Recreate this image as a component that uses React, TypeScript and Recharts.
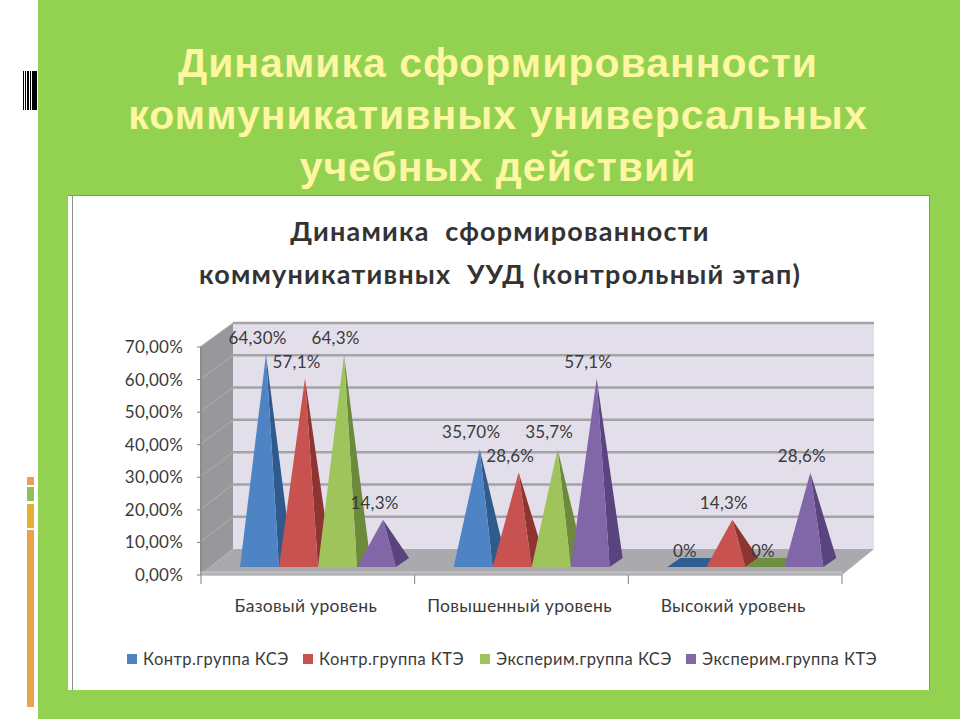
import React from "react";
import { ComposedChart, Bar, XAxis, YAxis, Legend, LabelList } from "recharts";

const categories = ["Базовый уровень", "Повышенный уровень", "Высокий уровень"];
const seriesNames = ["Контр.группа КСЭ", "Контр.группа КТЭ", "Эксперим.группа КСЭ", "Эксперим.группа КТЭ"];
const controlKse = [64.3, 35.7, 0];
const controlKte = [57.1, 28.6, 14.3];
const experKse = [64.3, 35.7, 0];
const experKte = [14.3, 57.1, 28.6];
const controlKseLabels = ["64,30%", "35,70%", "0%"];
const controlKteLabels = ["57,1%", "28,6%", "14,3%"];
const experKseLabels = ["64,3%", "35,7%", "0%"];
const experKteLabels = ["14,3%", "57,1%", "28,6%"];
const yTicks = [0, 10, 20, 30, 40, 50, 60, 70];
const slideTitle = ["Динамика сформированности", "коммуникативных универсальных", "учебных действий"];
const chartTitle = ["Динамика  сформированности", "коммуникативных  УУД (контрольный этап)"];

const rows = categories.map((name, i) => ({
  name,
  a: controlKse[i], b: controlKte[i], c: experKse[i], d: experKte[i],
  la: controlKseLabels[i], lb: controlKteLabels[i], lc: experKseLabels[i], ld: experKteLabels[i],
}));

const FONT = "Lato, 'Open Sans', sans-serif";
const TEXT = "#3a3a3a";
// plot box of the front plane
const L = 201, R = 842, T = 347, B = 575;
// depth of the 3D room
const DX = 32, DY = 26;
const BAR_LIFT = 8, BAR_SHIFT = 10, DEPTH_X = 13, DEPTH_Y = 9, BAR_SCALE = 1.015;

const colors = [
  { face: "#4f84c4", side: "#2f5b8c", flat: "#2f5f92" },
  { face: "#c8524f", side: "#8e3532", flat: "#8e3532" },
  { face: "#a0c45c", side: "#6b8a3a", flat: "#6f9040" },
  { face: "#8166a8", side: "#5a4480", flat: "#5a4480" },
];

function pyramid(colorIndex: number) {
  return (props: any) => {
    const { x, y, width, height } = props;
    const c = colors[colorIndex];
    const base = y + height - BAR_LIFT;
    const left = x + BAR_SHIFT;
    const right = left + width;
    if (!height) {
      return (
        <polygon
          points={`${left},${base} ${right},${base} ${right + DEPTH_X},${base - DEPTH_Y} ${left + DEPTH_X},${base - DEPTH_Y}`}
          fill={c.flat}
        />
      );
    }
    const ax = (left + right) / 2 + DEPTH_X / 2;
    const ay = base - height * BAR_SCALE;
    return (
      <g>
        <polygon points={`${right},${base} ${right + DEPTH_X},${base - DEPTH_Y} ${ax},${ay}`} fill={c.side} />
        <polygon points={`${left},${base} ${right},${base} ${ax},${ay}`} fill={c.face} />
      </g>
    );
  };
}

function barLabel(props: any) {
  const { x, y, width, height, value } = props;
  const cx = x + BAR_SHIFT + width / 2 - 2;
  const apex = y + height - BAR_LIFT - height * BAR_SCALE;
  return (
    <text x={cx} y={apex - 17} textAnchor="middle" dominantBaseline="central" fontFamily={FONT} fontSize={17} letterSpacing={0.2} fill={TEXT}>
      {value}
    </text>
  );
}

function Room() {
  const step = (B - T) / 7;
  const cat = (R - L) / categories.length;
  return (
    <g>
      <polygon points={`${L + DX},${T - 24} ${R + DX},${T - 24} ${R + DX},${B - DY} ${L + DX},${B - DY}`} fill="#e3dfea" />
      <polygon points={`${L - 1},${T} ${L + DX},${T - 24} ${L + DX},${B - DY} ${L - 1},${B}`} fill="#98989c" />
      <polygon points={`${L - 1},${B} ${L + DX},${B - DY} ${R + DX},${B - DY} ${R},${B}`} fill="#aaaaae" />
      <rect x={L - 1} y={B - 4} width={R - L + 1} height={4} fill="#bcbcc0" />
      {yTicks.slice(1).map((t) => {
        const yFront = B - t * step / 10;
        const yBack = B - DY - (t * (B - DY - (T - 24))) / 70;
        return (
          <g key={t}>
            <line x1={L - 1} y1={yFront} x2={L + DX} y2={yBack} stroke="#b0b0b4" strokeWidth={1} />
            <line x1={L + DX} y1={yBack} x2={R + DX} y2={yBack} stroke="#a3a3a8" strokeWidth={2.5} />
          </g>
        );
      })}
      {[0, 1, 2, 3].map((i) => (
        <line key={i} x1={L + i * cat} y1={B} x2={L + i * cat} y2={B + 9} stroke="#808080" strokeWidth={1} />
      ))}
    </g>
  );
}

function LegendRow(props: any) {
  const lefts = [127, 303, 480, 686];
  return (
    <div style={{ position: "relative", width: 960, height: 20 }}>
      {(props.payload || []).map((p: any, i: number) => (
        <div key={p.value} style={{ position: "absolute", left: lefts[i], top: 0, display: "flex", alignItems: "center", height: 20, whiteSpace: "nowrap" }}>
          <span style={{ width: 10, height: 10, background: colors[i].face, marginRight: 6 }} />
          <span style={{ fontFamily: FONT, fontSize: 16.5, color: TEXT, letterSpacing: 0.45 }}>{p.value}</span>
        </div>
      ))}
    </div>
  );
}

const barcode = [[23, 1], [25, 1], [27, 2], [30, 1], [32, 5]];
const strips = [
  { y: 477, h: 8, c: "#e8a050" },
  { y: 487, h: 14, c: "#8fc060" },
  { y: 504, h: 24, c: "#e4b030" },
  { y: 530, h: 177, c: "#eba34a" },
];

export default function App() {
  return (
    <div style={{ position: "absolute", left: 0, top: 0, width: 960, height: 720, background: "#fff", overflow: "hidden" }}>
      <div style={{ position: "absolute", left: 38, top: 0, width: 922, height: 719, background: "#93d150" }} />
      {barcode.map(([x, w]) => (
        <div key={x} style={{ position: "absolute", left: x, top: 71, width: w, height: 39, background: "#000" }} />
      ))}
      {strips.map((s) => (
        <div key={s.y} style={{ position: "absolute", left: 27, top: s.y, width: 7, height: s.h, background: s.c }} />
      ))}
      <div style={{ position: "absolute", left: 68, top: 195, width: 862, height: 495, background: "#fff", borderTop: "1px solid #8a8f88", borderRight: "1px solid #8a8f88", boxSizing: "border-box" }} />
      <div style={{ position: "absolute", left: 72, top: 195, width: 1, height: 495, background: "#8a8f88" }} />
      {slideTitle.map((t, i) => (
        <div key={t} style={{ position: "absolute", left: 38, width: 920, top: 38 + i * 52, height: 50, lineHeight: "50px", textAlign: "center", fontFamily: "'Liberation Sans', sans-serif", fontWeight: 700, fontSize: 41, letterSpacing: 1, color: "#fdf6a2", whiteSpace: "nowrap" }}>
          {t}
        </div>
      ))}
      {chartTitle.map((t, i) => (
        <div key={t} style={{ position: "absolute", left: 69, width: 862, top: 216 + i * 43, height: 30, lineHeight: "30px", textAlign: "center", fontFamily: FONT, fontWeight: 700, fontSize: 27, letterSpacing: 1.2, color: "#333333", whiteSpace: "pre" }}>
          {t}
        </div>
      ))}
      <div style={{ position: "absolute", left: 0, top: 0 }}>
        <ComposedChart
          width={960}
          height={720}
          data={rows}
          barGap={0}
          barSize={39}
          margin={{ left: L - 60, right: 960 - R, top: T, bottom: 720 - B - 50 - 20 }}
        >
          <Room />
          <XAxis
            dataKey="name"
            height={50}
            axisLine={{ stroke: "#9a9a9a" }}
            tickLine={false}
            tickSize={9}
            tickMargin={16}
            interval={0}
            dx={-2}
            tick={{ fontFamily: FONT, fontSize: 17.5, letterSpacing: 0.3, fill: TEXT }}
          />
          <YAxis
            width={60}
            domain={[0, 70]}
            ticks={yTicks}
            axisLine={{ stroke: "#808080" }}
            tickLine={{ stroke: "#808080" }}
            tickSize={4}
            tickMargin={14}
            tick={{ fontFamily: FONT, fontSize: 17, letterSpacing: 0.2, fill: TEXT }}
            tickFormatter={(v: number) => v.toFixed(2).replace(".", ",") + "%"}
          />
          <Bar dataKey="a" name={seriesNames[0]} fill={colors[0].face} shape={pyramid(0)} isAnimationActive={false}>
            <LabelList dataKey="la" content={barLabel} />
          </Bar>
          <Bar dataKey="b" name={seriesNames[1]} fill={colors[1].face} shape={pyramid(1)} isAnimationActive={false}>
            <LabelList dataKey="lb" content={barLabel} />
          </Bar>
          <Bar dataKey="c" name={seriesNames[2]} fill={colors[2].face} shape={pyramid(2)} isAnimationActive={false}>
            <LabelList dataKey="lc" content={barLabel} />
          </Bar>
          <Bar dataKey="d" name={seriesNames[3]} fill={colors[3].face} shape={pyramid(3)} isAnimationActive={false}>
            <LabelList dataKey="ld" content={barLabel} />
          </Bar>
          <Legend content={LegendRow} wrapperStyle={{ position: "absolute", left: 0, top: 649, width: 960 }} />
        </ComposedChart>
      </div>
    </div>
  );
}
